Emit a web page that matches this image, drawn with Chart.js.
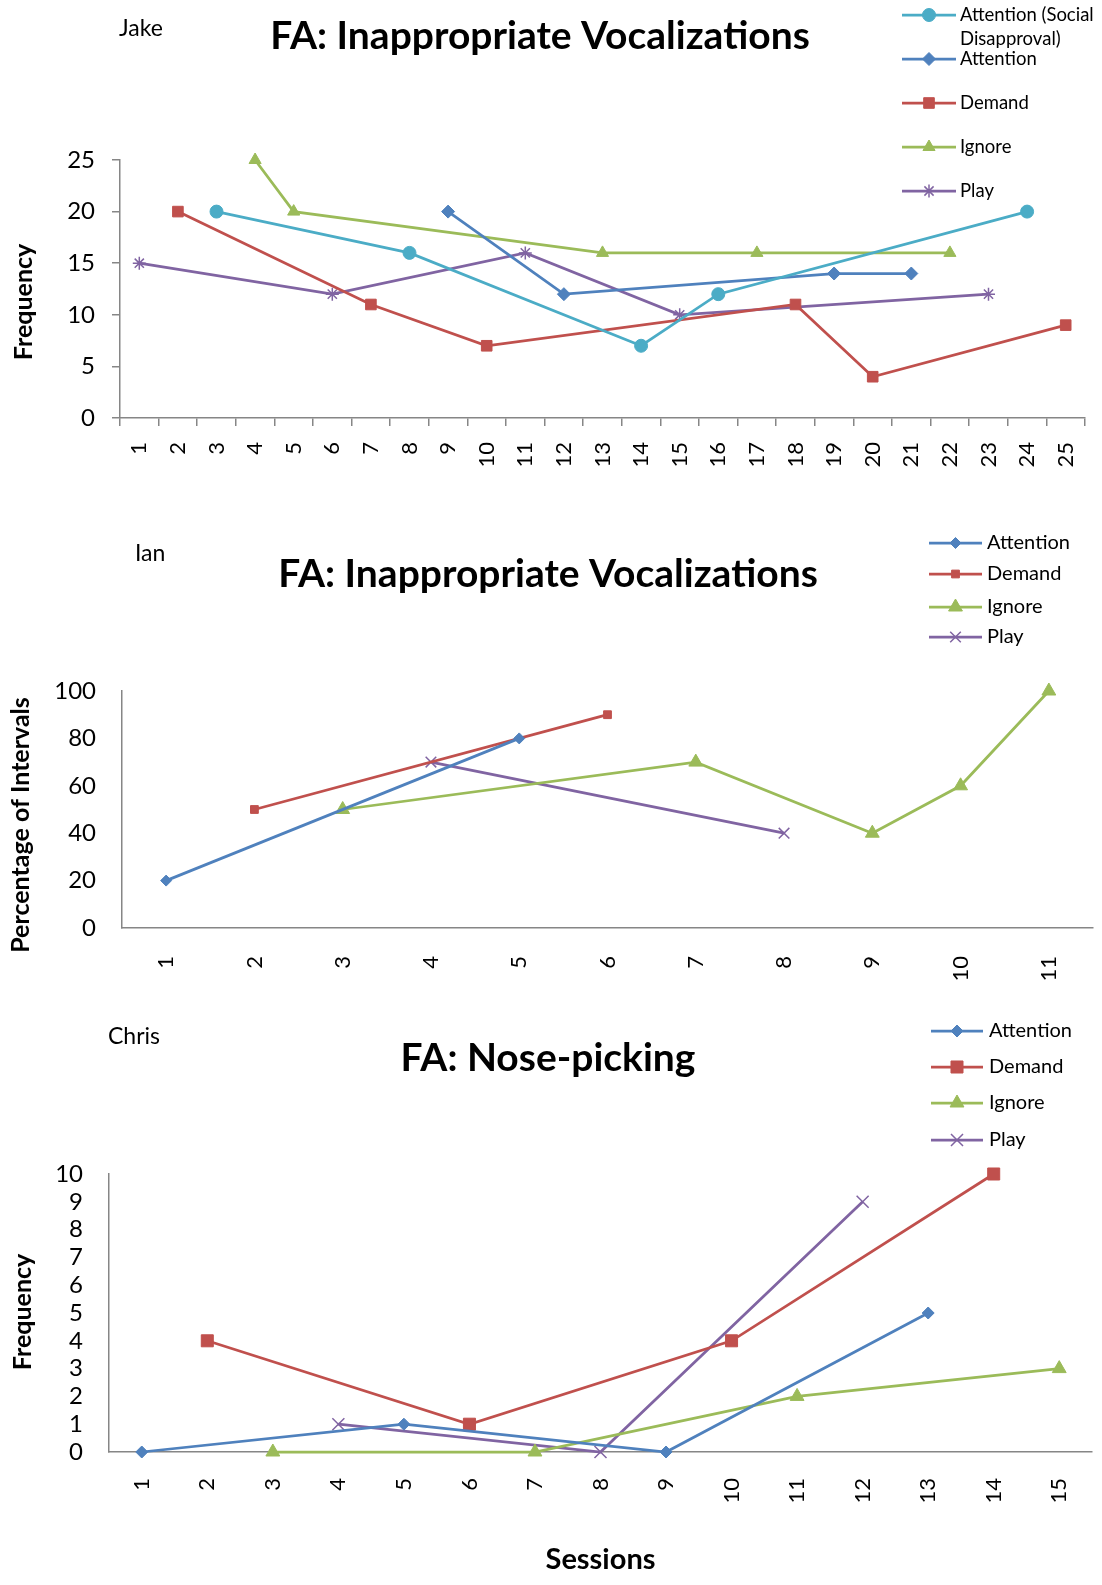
<!DOCTYPE html>
<html>
<head>
<meta charset="utf-8">
<script src="https://cdn.jsdelivr.net/npm/chart.js@4.4.0/dist/chart.umd.min.js"></script>
<style>
  body { margin: 0; background: #fff; }
  #wrap { position: relative; width: 1102px; height: 1585px; }
  canvas { position: absolute; left: 0; }
</style>
</head>
<body>
<div id="wrap">
  <canvas id="jake" width="1102" height="490" style="top:0"></canvas>
  <canvas id="ian" width="1102" height="490" style="top:490px"></canvas>
  <canvas id="chris" width="1102" height="605" style="top:980px"></canvas>
</div>
<script>
// --- Jake: sessions 1..25, frequency
const jakeSessions = ['1','2','3','4','5','6','7','8','9','10','11','12','13','14','15','16','17','18','19','20','21','22','23','24','25'];
const jakeSocialAt = [3, 8, 14, 16, 24];
const jakeSocial = [20, 16, 7, 12, 20];
const jakeAttnAt = [9, 12, 19, 21];
const jakeAttn = [20, 12, 14, 14];
const jakeDemandAt = [2, 7, 10, 18, 20, 25];
const jakeDemand = [20, 11, 7, 11, 4, 9];
const jakeIgnoreAt = [4, 5, 13, 17, 22];
const jakeIgnore = [25, 20, 16, 16, 16];
const jakePlayAt = [1, 6, 11, 15, 23];
const jakePlay = [15, 12, 16, 10, 12];

// --- Ian: sessions 1..11, percentage of intervals
const ianSessions = ['1','2','3','4','5','6','7','8','9','10','11'];
const ianAttnAt = [1, 5];
const ianAttn = [20, 80];
const ianDemandAt = [2, 6];
const ianDemand = [50, 90];
const ianIgnoreAt = [3, 7, 9, 10, 11];
const ianIgnore = [50, 70, 40, 60, 100];
const ianPlayAt = [4, 8];
const ianPlay = [70, 40];

// --- Chris: sessions 1..15, frequency
const chrisSessions = ['1','2','3','4','5','6','7','8','9','10','11','12','13','14','15'];
const chrisAttnAt = [1, 5, 9, 13];
const chrisAttn = [0, 1, 0, 5];
const chrisDemandAt = [2, 6, 10, 14];
const chrisDemand = [4, 1, 4, 10];
const chrisIgnoreAt = [3, 7, 11, 15];
const chrisIgnore = [0, 0, 2, 3];
const chrisPlayAt = [4, 8, 12];
const chrisPlay = [1, 0, 9];

const FONT = 'Lato';
const AXIS = '#868686';
const C = { social: '#4BACC6', attn: '#4F81BD', demand: '#C0504D', ignore: '#9BBB59', play: '#8064A2' };

function pts(at, vals) {
  return at.map((s, i) => ({ x: String(s), y: vals[i] }));
}

function series(label, at, vals, color, style, r) {
  const stroked = style === 'star' || style === 'crossRot';
  return {
    label: label,
    data: pts(at, vals),
    borderColor: color,
    backgroundColor: color,
    borderWidth: 2.75,
    pointStyle: style,
    pointRadius: r,
    pointHoverRadius: r,
    pointBackgroundColor: color,
    pointBorderColor: color,
    pointBorderWidth: stroked ? 1.5 : 1,
    tension: 0,
    clip: false
  };
}

// titles, names, y titles and legends drawn on the canvas
const decor = {
  id: 'decor',
  afterDraw(chart, args, o) {
    const ctx = chart.ctx;
    ctx.save();
    ctx.fillStyle = '#000';
    ctx.textBaseline = 'middle';
    ctx.textAlign = 'center';
    ctx.font = 'bold ' + o.titleSize + 'px ' + FONT;
    ctx.fillText(o.title, o.titleX, o.titleY);

    ctx.save();
    ctx.translate(o.yTitleX, o.yTitleY);
    ctx.rotate(-Math.PI / 2);
    ctx.font = 'bold 25px ' + FONT;
    ctx.fillText(o.yTitle, 0, 0);
    ctx.restore();

    ctx.textAlign = 'left';
    ctx.font = '23px ' + FONT;
    ctx.fillText(o.name, o.nameX, o.nameY);

    ctx.font = o.legendSize + 'px ' + FONT;
    const maxW = chart.width - o.tx - 2;
    chart.data.datasets.forEach((ds, i) => {
      const y = o.ys[i];
      ctx.strokeStyle = ds.borderColor;
      ctx.lineWidth = ds.borderWidth;
      ctx.beginPath();
      ctx.moveTo(o.lx1, y);
      ctx.lineTo(o.lx2, y);
      ctx.stroke();
      ctx.fillStyle = ds.pointBackgroundColor;
      ctx.strokeStyle = ds.pointBorderColor;
      ctx.lineWidth = ds.pointBorderWidth;
      Chart.helpers.drawPoint(ctx, {
        pointStyle: ds.pointStyle, radius: ds.pointRadius,
        borderWidth: ds.pointBorderWidth, rotation: 0
      }, (o.lx1 + o.lx2) / 2, y);
      // wrap label text
      ctx.fillStyle = '#000';
      const words = ds.label.split(' ');
      let line = '', ly = y;
      words.forEach(w => {
        const test = line ? line + ' ' + w : w;
        if (ctx.measureText(test).width > maxW && line) {
          ctx.fillText(line, o.tx, ly);
          line = w;
          ly += 24;
        } else {
          line = test;
        }
      });
      ctx.fillText(line, o.tx, ly);
    });
    ctx.restore();
  }
};

function makeChart(id, labels, datasets, opt) {
  new Chart(document.getElementById(id), {
    type: 'line',
    data: { labels: labels, datasets: datasets },
    plugins: [decor],
    options: {
      responsive: false,
      animation: false,
      events: [],
      layout: { padding: opt.padding },
      plugins: {
        legend: { display: false },
        tooltip: { enabled: false },
        decor: opt.decor
      },
      scales: {
        x: {
          type: 'category',
          offset: true,
          afterFit: s => {
            s.height = opt.xHeight;
            s.paddingLeft = 0;
            s.paddingRight = 0;
          },
          border: { color: AXIS, width: 1.5 },
          grid: {
            offset: true,
            drawOnChartArea: false,
            drawTicks: opt.xTicks,
            tickLength: 8,
            color: AXIS,
            lineWidth: 1.5
          },
          ticks: {
            autoSkip: false,
            minRotation: 90,
            maxRotation: 90,
            padding: opt.xPad,
            color: '#000',
            font: { family: FONT, size: 22 }
          },
          title: opt.xTitle || { display: false }
        },
        y: {
          min: opt.yMin,
          max: opt.yMax,
          afterFit: s => { s.width = opt.yWidth; },
          border: { color: AXIS, width: 1.5 },
          grid: {
            drawOnChartArea: false,
            drawTicks: opt.yTicks,
            tickLength: 8,
            color: AXIS,
            lineWidth: 1.5
          },
          ticks: {
            stepSize: opt.yStep,
            autoSkip: false,
            padding: opt.yPad,
            color: '#000',
            font: { family: FONT, size: 24 }
          },
          title: { display: false }
        }
      }
    }
  });
}

makeChart('jake', jakeSessions, [
  series('Attention (Social Disapproval)', jakeSocialAt, jakeSocial, C.social, 'circle', 6.5),
  series('Attention', jakeAttnAt, jakeAttn, C.attn, 'rectRot', 6.5),
  series('Demand', jakeDemandAt, jakeDemand, C.demand, 'rect', 7.5),
  series('Ignore', jakeIgnoreAt, jakeIgnore, C.ignore, 'triangle', 7),
  series('Play', jakePlayAt, jakePlay, C.play, 'star', 6.5)
], {
  padding: { top: 160, right: 17, left: 0, bottom: 0 },
  xHeight: 72, yWidth: 120,
  xTicks: true, yTicks: true, xPad: 16, yPad: 17,
  yMin: 0, yMax: 25, yStep: 5,
  decor: {
    title: 'FA: Inappropriate Vocalizations', titleSize: 39, titleX: 540, titleY: 36,
    yTitle: 'Frequency', yTitleX: 24, yTitleY: 302,
    name: 'Jake', nameX: 119, nameY: 29,
    legendSize: 18.5, lx1: 902, lx2: 956, tx: 960, ys: [15, 59, 103, 147, 191]
  }
});

makeChart('ian', ianSessions, [
  series('Attention', ianAttnAt, ianAttn, C.attn, 'rectRot', 5.5),
  series('Demand', ianDemandAt, ianDemand, C.demand, 'rect', 5.5),
  series('Ignore', ianIgnoreAt, ianIgnore, C.ignore, 'triangle', 8),
  series('Play', ianPlayAt, ianPlay, C.play, 'crossRot', 7.5)
], {
  padding: { top: 201, right: 5, left: 0, bottom: 0 },
  xHeight: 52, yWidth: 122,
  xTicks: false, yTicks: false, xPad: 28, yPad: 26,
  yMin: 0, yMax: 100, yStep: 20,
  decor: {
    title: 'FA: Inappropriate Vocalizations', titleSize: 39, titleX: 548, titleY: 84,
    yTitle: 'Percentage of Intervals', yTitleX: 21, yTitleY: 335,
    name: 'Ian', nameX: 135, nameY: 64,
    legendSize: 20, lx1: 929, lx2: 982, tx: 987, ys: [53, 84, 117, 147]
  }
});

makeChart('chris', chrisSessions, [
  series('Attention', chrisAttnAt, chrisAttn, C.attn, 'rectRot', 6),
  series('Demand', chrisDemandAt, chrisDemand, C.demand, 'rect', 8.5),
  series('Ignore', chrisIgnoreAt, chrisIgnore, C.ignore, 'triangle', 8),
  series('Play', chrisPlayAt, chrisPlay, C.play, 'crossRot', 8.5)
], {
  padding: { top: 194, right: 9, left: 0, bottom: 0 },
  xHeight: 133, yWidth: 109,
  xTicks: false, yTicks: false, xPad: 26, yPad: 26,
  yMin: 0, yMax: 10, yStep: 1,
  xTitle: {
    display: true, text: 'Sessions', color: '#000',
    padding: { top: 0, bottom: 8 },
    font: { family: FONT, size: 29, weight: 'bold' }
  },
  decor: {
    title: 'FA: Nose-picking', titleSize: 39, titleX: 548, titleY: 78,
    yTitle: 'Frequency', yTitleX: 23, yTitleY: 332,
    name: 'Chris', nameX: 108, nameY: 57,
    legendSize: 20, lx1: 931, lx2: 983, tx: 989, ys: [51, 87, 123, 160]
  }
});
</script>
</body>
</html>
